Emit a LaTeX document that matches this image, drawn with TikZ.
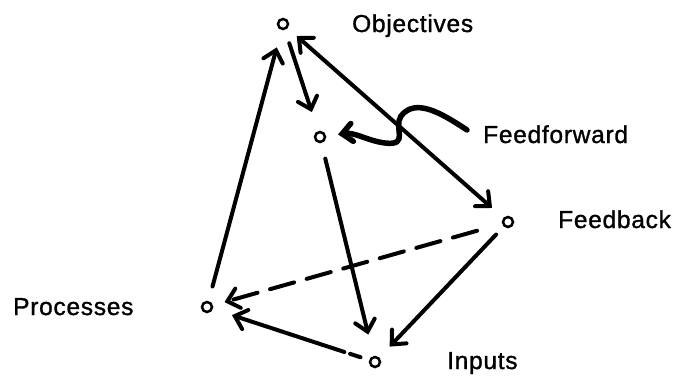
\documentclass[tikz,border=0pt]{standalone}
\usepackage{fontspec}
\setmainfont{Liberation Sans}[FakeBold=1.2,LetterSpace=3]
\usetikzlibrary{arrows.meta}
\begin{document}
\begin{tikzpicture}[x=1pt,y=-1pt,
  pt/.style={circle,draw,line width=2.5pt,inner sep=0pt,minimum size=10pt},
  lbl/.style={anchor=base west,inner sep=0pt,font=\fontsize{24.5}{28}\selectfont},
  conn/.style={line width=4pt,line cap=round,-{Straight Barb[length=11pt,width=20pt,line cap=round]}},
  dconn/.style={line width=4pt,{Straight Barb[length=11pt,width=20pt,line cap=round]}-{Straight Barb[length=11pt,width=20pt,line cap=round]}}
]
\useasboundingbox (0,0) rectangle (679,380);
% points
\node[pt] (O) at (283,24) {};
\node[pt] (F) at (320,137) {};
\node[pt] (B) at (508,222) {};
\node[pt] (P) at (207,307) {};
\node[pt] (I) at (375,362) {};
% labels
\node[lbl] (lO) at (352,32) {Objectives};
\node[lbl] (lF) at (483,143) {Feedforward};
\node[lbl] (lB) at (558,228) {Feedback};
\node[lbl] (lP) at (13,315) {Processes};
\node[lbl] (lI) at (447,369) {Inputs};
% connectors
\draw[conn,shorten <=15pt,shorten >=18pt] (P) -- (O);
\draw[conn,shorten <=14pt,shorten >=20pt] (O) -- (F);
\draw[dconn,shorten <=12pt,shorten >=15pt] (O) -- (B);
\draw[conn,shorten <=16pt,shorten >=22pt] (F) -- (I);
\draw[conn,shorten <=11pt,shorten >=15pt] (B) -- (I);
\draw[conn,dash pattern=on 25pt off 13pt,shorten <=26pt,shorten >=12pt] (B) -- (P);
\draw[conn,dash pattern=on 11pt off 6pt on 300pt,shorten <=9pt,shorten >=20pt] (I) -- (P);
% feedforward curve
\coordinate (ffs) at (467,130);
\draw[line width=5.5pt,line cap=round,-{Straight Barb[length=10pt,width=18pt,line cap=round]},shorten >=12pt]
  (ffs) .. controls (440,112) and (415,98) .. (401,116)
  .. controls (393,128) and (410,146) .. (385,143)
  .. controls (368,141) and (355,132) .. (F);
\end{tikzpicture}
\end{document}
